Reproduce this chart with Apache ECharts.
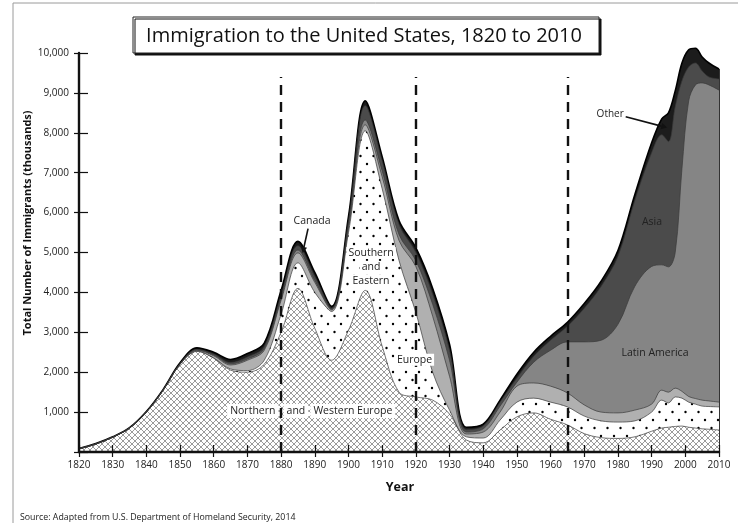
<!DOCTYPE html>
<html><head><meta charset="utf-8">
<script src="https://cdn.jsdelivr.net/npm/echarts@6/dist/echarts.min.js"></script>
<style>html,body{margin:0;padding:0;background:#fff}#c{width:744px;height:523px}</style>
</head><body><div id="c"></div>
<script>
const years = [1820,1825,1830,1835,1840,1845,1850,1855,1860,1865,1870,1875,1880,1885,1890,1895,1900,1905,1910,1915,1920,1925,1930,1935,1940,1945,1950,1955,1960,1965,1970,1975,1980,1985,1990,1993,1995,1997,1999,2001,2003,2005,2007,2010];
const northernWestern = [80,200,370,600,1000,1550,2200,2520,2350,2050,2000,2200,3000,4100,3100,2300,3050,4050,2650,1500,1380,1300,950,300,230,550,880,980,820,680,460,360,340,380,520,600,620,640,650,620,600,580,570,550];
const southernEastern = [0,0,0,0,0,0,0,10,10,30,40,100,450,640,900,1220,2450,4000,3950,3300,2120,700,100,80,120,250,370,370,430,450,440,420,410,400,480,700,610,740,700,630,600,570,570,580];
const canada = [0,0,0,0,0,0,5,20,50,100,260,250,350,250,250,40,100,150,300,500,1150,1400,850,70,150,200,400,380,400,350,280,220,230,270,200,250,270,220,170,140,140,150,140,120];
const latinAmerica = [0,0,0,0,0,0,5,10,20,30,30,40,50,70,50,20,80,120,150,150,150,300,400,50,80,150,100,520,900,1280,1580,1800,2220,3100,3450,3140,3140,3400,5580,7410,7860,7950,7920,7820];
const asia = [0,0,0,0,0,0,5,10,20,30,50,50,70,110,100,20,120,360,250,250,200,250,250,60,70,100,100,150,250,390,840,1350,1700,2150,2850,3260,3140,3650,2200,850,550,300,200,280];
const other = [10,10,10,10,15,20,20,40,50,80,90,90,130,110,100,50,100,120,100,100,120,150,150,60,50,50,100,100,100,100,120,130,150,150,250,400,720,400,450,430,370,350,350,250];
const seriesNames = ['Northern and Western Europe','Southern and Eastern Europe','Canada','Latin America','Asia','Other'];
const xTicks = {min:1820, max:2010, interval:10};
const yTicks = {min:0, max:10000, interval:1000};
const dividerYears = [1880, 1920, 1965];

const FONT = '"Open Sans", "Noto Sans", sans-serif';

function crossHatch(){
  const s=6,c=document.createElement('canvas');c.width=c.height=s;
  const g=c.getContext('2d');g.fillStyle='#fff';g.fillRect(0,0,s,s);
  g.strokeStyle='#707070';g.lineWidth=0.7;g.beginPath();
  g.moveTo(-1,-1);g.lineTo(s+1,s+1);g.moveTo(s+1,-1);g.lineTo(-1,s+1);g.stroke();
  return c;
}
function dots(){
  const w=13,h=16,c=document.createElement('canvas');c.width=w;c.height=h;
  const g=c.getContext('2d');g.fillStyle='#fff';g.fillRect(0,0,w,h);
  g.fillStyle='#000';
  g.beginPath();g.arc(3,4,1.2,0,Math.PI*2);g.fill();
  g.beginPath();g.arc(9.5,12,1.2,0,Math.PI*2);g.fill();
  return c;
}
const fills = [
  {image: crossHatch(), repeat:'repeat'},
  {image: dots(), repeat:'repeat'},
  '#b0b0b0','#858585','#4b4b4b','#1c1c1c'
];
const valueArrays = [northernWestern, southernEastern, canada, latinAmerica, asia, other];

// cumulative (stacked) tops, bottom layer first
const cumulative = [];
valueArrays.forEach((arr,i)=>{
  cumulative.push(arr.map((v,k)=> v + (i>0 ? cumulative[i-1][k] : 0)));
});

const chart = echarts.init(document.getElementById('c'), null, {renderer:'canvas'});

// draw from the top layer down so that lower layers cover the area below each boundary
const series = [];
for (let i = valueArrays.length-1; i >= 0; i--) {
  series.push({
    name: seriesNames[i], type:'line', smooth:0.35, symbol:'none', clip:false,
    data: years.map((y,k)=>[y, cumulative[i][k]]),
    lineStyle:{color: i===5 ? '#000' : '#3a3a3a', width: i===5 ? 1.6 : 0.7},
    areaStyle:{color: fills[i], opacity:1, origin:'start'},
    z: 2
  });
}
const lastTotal = cumulative[5][years.length-1];
series.push({
  type:'line', data:[], silent:true, z:5,
  markLine:{
    silent:true, symbol:['none','none'], label:{show:false}, animation:false,
    data: dividerYears.map(y=>[{coord:[y,0], lineStyle:{type:[10,7],color:'#111',width:2.4}},{coord:[y,9400]}])
      .concat([[{coord:[2010,0], lineStyle:{type:'solid',color:'#333',width:1}},{coord:[2010,lastTotal]}]])
  }
});

const axisLabelStyle = {fontFamily:FONT, fontSize:10, color:'#222'};
chart.setOption({
  animation:false,
  backgroundColor:'#fff',
  grid:{left:79, right:25, top:53, bottom:71, containLabel:false, outerBoundsMode:'none'},
  xAxis:[
    {type:'value', ...xTicks, position:'bottom',
     axisLine:{show:true,lineStyle:{color:'#111',width:2.4}},
     axisTick:{show:true,inside:false,length:5,lineStyle:{color:'#111',width:1.2}},
     axisLabel:{...axisLabelStyle, margin:8, formatter:v=>String(v), showMinLabel:true, showMaxLabel:true},
     splitLine:{show:false}, z:10},
    {type:'value', ...xTicks, position:'bottom',
     axisLine:{show:false},
     axisTick:{show:true,inside:true,length:7,lineStyle:{color:'#111',width:1.2}},
     axisLabel:{show:false}, splitLine:{show:false}, z:10}
  ],
  yAxis:[
    {type:'value', ...yTicks, position:'left',
     axisLine:{show:true,lineStyle:{color:'#111',width:2.4}},
     axisTick:{show:true,inside:false,length:5,lineStyle:{color:'#111',width:1.2}},
     axisLabel:{...axisLabelStyle, margin:10, formatter:v=>v===0?'':v.toLocaleString('en-US'), showMinLabel:true, showMaxLabel:true},
     splitLine:{show:false}, z:10},
    {type:'value', ...yTicks, position:'left',
     axisLine:{show:false},
     axisTick:{show:true,inside:true,length:9,lineStyle:{color:'#111',width:1.2}},
     axisLabel:{show:false}, splitLine:{show:false}, z:10}
  ],
  series
});

function px(x,y){return chart.convertToPixel({gridIndex:0},[x,y]);}
function textEl(pos, str, opt){
  return {type:'text', x:pos[0], y:pos[1], z:20,
    style:Object.assign({text:str, fontFamily:FONT, fontSize:10.5, fill:'#222', align:'center', verticalAlign:'middle'}, opt||{})};
}
function boxedText(pos,str,opt){
  return textEl(pos,str,Object.assign({backgroundColor:'#fff', padding:[2,3,1,3]},opt||{}));
}
function arrow(from,to){
  const dx=to[0]-from[0], dy=to[1]-from[1], L=Math.hypot(dx,dy), ux=dx/L, uy=dy/L;
  const hl=6, hw=3.2;
  const bx=to[0]-ux*hl, by=to[1]-uy*hl;
  return [
    {type:'line', z:20, shape:{x1:from[0],y1:from[1],x2:bx,y2:by}, style:{stroke:'#111',lineWidth:1.6}},
    {type:'polygon', z:20, shape:{points:[[to[0],to[1]],[bx-uy*hw,by+ux*hw],[bx+uy*hw,by-ux*hw]]}, style:{fill:'#111'}}
  ];
}

const H = chart.getHeight();
const graphic = [
  {type:'line', z:1, shape:{x1:13,y1:3,x2:738,y2:3}, style:{stroke:'#9a9a9a',lineWidth:1}},
  {type:'line', z:1, shape:{x1:13,y1:3,x2:13,y2:H}, style:{stroke:'#9a9a9a',lineWidth:1}},
  {type:'rect', z:30, shape:{x:133,y:17,width:466,height:36}, style:{fill:'#fff',stroke:'#222',lineWidth:1,shadowColor:'#111',shadowOffsetX:2,shadowOffsetY:2,shadowBlur:0}},
  {type:'text', z:31, x:364, y:36, style:{text:'Immigration to the United States, 1820 to 2010', fontFamily:FONT, fontSize:20, fill:'#111', align:'center', verticalAlign:'middle'}},
  {type:'text', z:20, x:28, y:223, rotation:Math.PI/2, style:{text:'Total Number of Immigrants (thousands)', fontFamily:FONT, fontSize:11, fontWeight:'bold', fill:'#111', align:'center', verticalAlign:'middle'}},
  {type:'text', z:20, x:400, y:487, style:{text:'Year', fontFamily:FONT, fontSize:12.5, fontWeight:'bold', fill:'#111', align:'center', verticalAlign:'middle'}},
  {type:'text', z:20, x:20, y:517, style:{text:'Source: Adapted from U.S. Department of Homeland Security, 2014', fontFamily:FONT, fontSize:8.8, fill:'#222', align:'left', verticalAlign:'middle'}},
  textEl(px(1889.2,5790),'Canada'),
  ...arrow(px(1888,5600), px(1886.4,4990)),
  boxedText(px(1906.7,4990),'Southern',{padding:[1,2,0,2]}),
  boxedText(px(1906.7,4640),'and',{padding:[1,2,0,2]}),
  boxedText(px(1906.7,4290),'Eastern',{padding:[1,2,0,2]}),
  boxedText(px(1919.6,2310),'Europe',{padding:[1,2,0,2]}),
  boxedText(px(1871.6,1030),'Northern'),
  boxedText(px(1884.4,1030),'and'),
  boxedText(px(1901.3,1030),'Western Europe'),
  textEl(px(1991,2480),'Latin America'),
  textEl(px(1990.1,5760),'Asia'),
  textEl(px(1977.7,8470),'Other',{fontSize:10}),
  ...arrow(px(1982.3,8400), px(1994.6,8130))
];
chart.setOption({graphic});
</script>
</body></html>
